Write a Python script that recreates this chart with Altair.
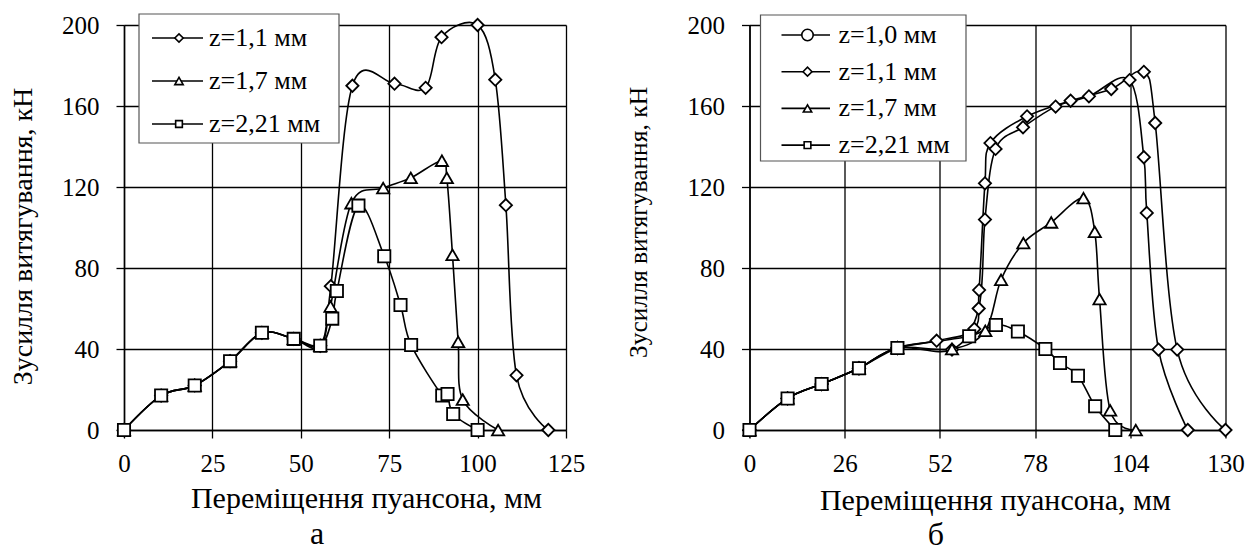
import altair as alt
import pandas as pd

# ---------------- data ----------------
# panel а
a_names = ["z=1,1 мм", "z=1,7 мм", "z=2,21 мм"]
a_z11_x = [0, 10.5, 20, 30, 39, 48, 55.5, 58.5, 64.6, 76.5, 85.3, 89.8, 100, 105, 108, 111, 120]
a_z11_y = [0, 17, 22, 34, 48, 45, 41.6, 71, 170, 171, 169, 194, 200, 173, 111, 27, 0]
a_z17_x = [0, 10.5, 20, 30, 39, 48, 55.5, 58.4, 64.3, 73.3, 81.1, 89.9, 91.3, 92.9, 94.5, 95.8, 105.8]
a_z17_y = [0, 17, 22, 34, 48, 45, 41.6, 61, 112, 119.5, 124.5, 133, 124.5, 86.5, 43.5, 15, 0]
a_z221_x = [0, 10.5, 20, 30, 39, 48, 55.5, 58.9, 60.2, 66.3, 73.6, 78.2, 81.2, 90, 91.5, 93.1, 100]
a_z221_y = [0, 17, 22, 34, 48, 45, 41.6, 55, 68.6, 110.8, 85.8, 61.7, 42, 17, 17.8, 7.9, 0]

# panel б
b_names = ["z=1,0 мм", "z=1,1 мм", "z=1,7 мм", "z=2,21 мм"]
b_z10_x = [0, 10.4, 19.7, 29.9, 40.4, 51.1, 61.4, 62.7, 64.3, 65.8, 75.8, 87.7, 98.8, 107.7, 110.8, 116.8, 130]
b_z10_y = [0, 15.6, 22.7, 30.5, 40.5, 44.1, 49.9, 69.1, 121.8, 141.7, 154.9, 162.6, 168.4, 176.9, 151.6, 39.7, 0]
b_z11_x = [0, 10.4, 19.7, 29.9, 40.4, 55.3, 62.6, 64.3, 67.2, 74.7, 83.6, 92.7, 103.8, 107.7, 108.5, 111.7, 119.7]
b_z11_y = [0, 15.6, 22.7, 30.5, 40.5, 39.7, 60, 103.9, 138.8, 149.5, 159.7, 164.8, 172.8, 134.7, 107.2, 39.7, 0]
b_z17_x = [0, 10.4, 19.7, 29.9, 40.4, 55.3, 64.4, 68.7, 74.8, 82.4, 91.2, 94.3, 95.6, 98.5, 105.5]
b_z17_y = [0, 15.6, 22.7, 30.5, 40.5, 40, 49, 74.2, 92.3, 102.5, 114.5, 97.9, 64.7, 9.7, 0]
b_z221_x = [0, 10.4, 19.7, 29.9, 40.4, 60, 67.3, 73.3, 80.8, 84.8, 89.7, 94.4, 99.9]
b_z221_y = [0, 15.6, 22.7, 30.5, 40.5, 46.3, 51.9, 48.6, 40, 33.1, 26.8, 11.7, 0]

a_xticks = [0, 25, 50, 75, 100, 125]
b_xticks = [0, 26, 52, 78, 104, 130]
yticks = [0, 40, 80, 120, 160, 200]

x_title = "Переміщення пуансона, мм"
y_title = "Зусилля витягування, кН"
captions = ["а", "б"]

FONT = "Liberation Serif, Times New Roman, serif"


def frame(names, xs, ys):
    rows = []
    for n, xx, yy in zip(names, xs, ys):
        for i, (a, b) in enumerate(zip(xx, yy)):
            rows.append({"series": n, "x": a, "y": b, "i": i})
    return pd.DataFrame(rows)


def panel(df, names, shapes, sizes, xmax, xticks, width, caption,
          ytitle_size, ytitle_x, ytitle_y, xtitle_x, xtitle_y,
          leg_box, leg_y0, leg_dy, leg_line, leg_mark_x, leg_text_x, leg_sizes,
          cap_x, cap_y):
    height = 405
    xenc = alt.X("x:Q", scale=alt.Scale(domain=[0, xmax], nice=False, zero=False),
                 axis=alt.Axis(values=xticks, grid=True, gridColor="black", gridWidth=1.3,
                               gridOpacity=1, domainColor="black", domainWidth=1.5,
                               tickColor="black", tickSize=8, tickWidth=1.3,
                               labelFont=FONT, labelFontSize=25, labelColor="black",
                               labelPadding=13, labelFlush=False, labelOverlap=False,
                               title=x_title, titleFont=FONT, titleFontSize=30,
                               titleFontWeight="normal", titleColor="black",
                               titleX=xtitle_x, titleY=xtitle_y, titleAlign="center",
                               titleBaseline="alphabetic"))
    yenc = alt.Y("y:Q", scale=alt.Scale(domain=[0, 200], nice=False),
                 axis=alt.Axis(values=yticks, grid=True, gridColor="black", gridWidth=1.3,
                               gridOpacity=1, domainColor="black", domainWidth=1.5,
                               tickColor="black", tickSize=8, tickWidth=1.3,
                               labelFont=FONT, labelFontSize=25, labelColor="black",
                               labelPadding=17, labelFlush=False, labelOverlap=False,
                               title=y_title, titleFont=FONT, titleFontSize=ytitle_size,
                               titleFontWeight="normal", titleColor="black",
                               titleX=ytitle_x, titleY=ytitle_y, titleAngle=270,
                               titleAlign="center", titleBaseline="middle"))
    shape_scale = alt.Scale(domain=names, range=shapes)
    size_scale = alt.Scale(domain=names, range=sizes)

    base = alt.Chart(df)
    lines = base.mark_line(interpolate="cardinal", color="black", strokeWidth=1.6).encode(
        x=xenc, y=yenc, detail="series:N", order="i:Q")
    pts = base.mark_point(filled=True, fill="white", stroke="black", strokeWidth=1.8,
                          opacity=1).encode(
        x="x:Q", y="y:Q",
        shape=alt.Shape("series:N", scale=shape_scale, legend=None),
        size=alt.Size("series:N", scale=size_scale, legend=None))

    layers = [lines, pts]

    one = pd.DataFrame({"k": [0]})
    bx0, bx1, by0, by1 = leg_box
    box = alt.Chart(one).mark_rect(fill="white", stroke="#555555", strokeWidth=1.2).encode(
        x=alt.value(bx0), x2=alt.value(bx1), y=alt.value(by0), y2=alt.value(by1))
    layers.append(box)
    for k, n in enumerate(names):
        yy = leg_y0 + k * leg_dy
        ln = alt.Chart(one).mark_rule(color="black", strokeWidth=1.6).encode(
            x=alt.value(leg_line[0]), x2=alt.value(leg_line[1]), y=alt.value(yy))
        mk = alt.Chart(one).mark_point(filled=True, fill="white", stroke="black",
                                       strokeWidth=1.6, opacity=1).encode(
            x=alt.value(leg_mark_x), y=alt.value(yy), shape=alt.value(shapes[k]),
            size=alt.value(leg_sizes[k]))
        tx = alt.Chart(one).mark_text(font=FONT, fontSize=26, color="black", align="left",
                                      baseline="middle").encode(
            x=alt.value(leg_text_x), y=alt.value(yy), text=alt.value(n))
        layers += [ln, mk, tx]

    cap = alt.Chart(one).mark_text(font=FONT, fontSize=32, color="black", align="center",
                                   baseline="alphabetic").encode(
        x=alt.value(cap_x), y=alt.value(cap_y), text=alt.value(caption))
    layers.append(cap)

    return alt.layer(*layers).properties(width=width, height=height)


df_a = frame(a_names, [a_z11_x, a_z17_x, a_z221_x], [a_z11_y, a_z17_y, a_z221_y])
df_b = frame(b_names, [b_z10_x, b_z11_x, b_z17_x, b_z221_x],
             [b_z10_y, b_z11_y, b_z17_y, b_z221_y])

left = panel(df_a, a_names, ["diamond", "triangle-up", "square"], [150, 150, 70],
             125, a_xticks, 442, captions[0],
             ytitle_size=28, ytitle_x=-101, ytitle_y=211, xtitle_x=242, xtitle_y=77,
             leg_box=(15, 215, -11, 118), leg_y0=13, leg_dy=43, leg_line=(28, 79),
             leg_mark_x=55, leg_text_x=85, leg_sizes=[70, 70, 45],
             cap_x=193, cap_y=519)

right = panel(df_b, b_names, ["circle", "diamond", "triangle-up", "square"],
              [130, 120, 150, 70], 130, b_xticks, 476, captions[1],
              ytitle_size=25.5, ytitle_x=-111.5, ytitle_y=197, xtitle_x=245.5, xtitle_y=79,
              leg_box=(11, 216.5, -10, 136), leg_y0=10, leg_dy=36.7, leg_line=(32, 80.5),
              leg_mark_x=58, leg_text_x=89, leg_sizes=[130, 80, 70, 45],
              cap_x=186.5, cap_y=520)

chart = alt.hconcat(left, right, spacing=183.5, bounds="flush").properties(
    padding={"left": 9, "top": 13, "right": 2, "bottom": 0},
    background="white"
).configure_view(stroke=None)

chart.save("out.html", embed_options={"renderer": "svg", "actions": False})
